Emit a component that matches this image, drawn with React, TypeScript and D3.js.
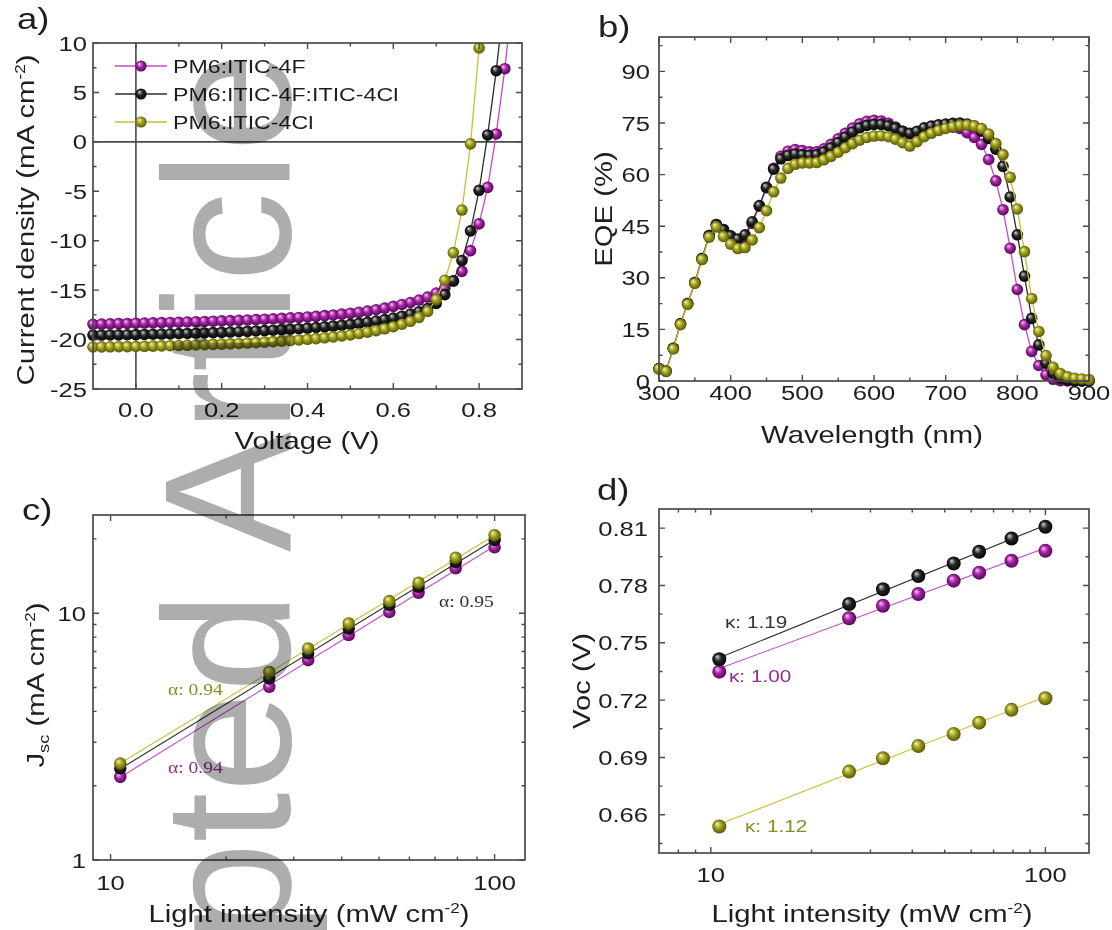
import React from 'react';
import * as d3 from 'd3';

// the lettering of the source figure is wide: every text is stretched along its own baseline
const SX = 1.22;
const SANS = "'Liberation Sans', Arial, Helvetica, sans-serif";
const SERIF = "'Liberation Serif', 'Times New Roman', serif";
const AX = '#4a4a4a';
const TICK = 21;
const TITLE = 24;

// ---------- a) J-V curves ----------
const jvVoltage = [
  -0.1, -0.08, -0.06, -0.04, -0.02, 0.0, 0.02, 0.04, 0.06, 0.08, 0.1, 0.12, 0.14, 0.16, 0.18, 0.2, 0.22,
  0.24, 0.26, 0.28, 0.3, 0.32, 0.34, 0.36, 0.38, 0.4, 0.42, 0.44, 0.46, 0.48, 0.5, 0.52, 0.54, 0.56,
  0.58, 0.6, 0.62, 0.64, 0.66, 0.68, 0.7, 0.72, 0.74, 0.76, 0.78, 0.8, 0.82, 0.84, 0.86, 0.88,
];
const jv4F = [
  -18.45, -18.43, -18.41, -18.39, -18.37, -18.35, -18.33, -18.31, -18.29, -18.27, -18.25, -18.22, -18.2,
  -18.17, -18.14, -18.11, -18.08, -18.05, -18.02, -17.98, -17.94, -17.9, -17.86, -17.81, -17.76, -17.71,
  -17.65, -17.58, -17.51, -17.43, -17.34, -17.24, -17.12, -16.98, -16.82, -16.64, -16.45, -16.25, -16.0,
  -15.7, -15.3, -14.8, -14.1, -13.1, -11.0, -8.3, -4.6, 0.8, 7.4, 15.5,
];
const jvTernary = [
  -19.55, -19.54, -19.53, -19.52, -19.51, -19.5, -19.48, -19.46, -19.44, -19.42, -19.4, -19.38, -19.36,
  -19.33, -19.3, -19.27, -19.24, -19.21, -19.17, -19.13, -19.09, -19.05, -19.0, -18.95, -18.9, -18.84,
  -18.78, -18.71, -18.63, -18.55, -18.46, -18.36, -18.25, -18.12, -17.98, -17.82, -17.64, -17.43, -17.18,
  -16.85, -16.35, -15.45, -14.05, -12.0, -9.0, -4.9, 0.7, 7.2, 15.0,
];
const jv4Cl = [
  -20.75, -20.74, -20.73, -20.72, -20.71, -20.7, -20.68, -20.66, -20.64, -20.62, -20.6, -20.58, -20.55,
  -20.52, -20.49, -20.46, -20.43, -20.39, -20.35, -20.31, -20.26, -20.21, -20.16, -20.1, -20.04, -19.97,
  -19.9, -19.82, -19.73, -19.63, -19.52, -19.39, -19.25, -19.09, -18.91, -18.7, -18.45, -18.15, -17.75,
  -17.15, -15.95, -14.0, -11.2, -6.9, -0.2, 9.5, 22.0,
];
const jvTicksV = [0, 0.2, 0.4, 0.6, 0.8];
const jvTicksJ = [-25, -20, -15, -10, -5, 0, 5, 10];

// ---------- b) EQE ----------
const wavelength = [
  300, 310, 320, 330, 340, 350, 360, 370, 380, 390, 400, 410, 420, 430, 440, 450, 460, 470, 480, 490, 500,
  510, 520, 530, 540, 550, 560, 570, 580, 590, 600, 610, 620, 630, 640, 650, 660, 670, 680, 690, 700, 710,
  720, 730, 740, 750, 760, 770, 780, 790, 800, 810, 820, 830, 840, 850, 860, 870, 880, 890, 900,
];
const eqe4F = [
  3.6, 2.9, 9.5, 16.6, 22.5, 28.6, 35.6, 42.3, 45.5, 44.0, 42.0, 40.8, 41.8, 45.8, 50.8, 56.2, 61.8, 65.3,
  66.8, 67.3, 67.0, 66.6, 66.6, 67.5, 68.8, 70.4, 72.0, 73.5, 74.8, 75.5, 75.8, 75.6, 74.9, 73.8, 72.6,
  71.8, 72.3, 73.2, 73.8, 74.0, 74.0, 73.8, 73.4, 72.2, 70.8, 68.8, 64.4, 58.2, 49.8, 38.6, 26.6, 16.4,
  8.6, 4.5, 1.8, 0.5, 0.1, 0.0, 0.0, 0.0, 0.0,
];
const eqeTernary = [
  3.6, 2.9, 9.5, 16.6, 22.5, 28.6, 35.6, 42.3, 45.5, 44.0, 42.2, 41.3, 42.5, 46.3, 51.0, 56.3, 61.6, 64.6,
  65.6, 66.0, 65.8, 65.6, 65.8, 66.6, 67.8, 69.3, 70.9, 72.4, 73.6, 74.3, 74.6, 74.6, 74.2, 73.5, 72.6,
  72.0, 72.6, 73.6, 74.1, 74.5, 74.7, 74.9, 75.0, 74.7, 74.1, 72.6, 70.5, 67.4, 62.4, 53.5, 42.5, 30.5,
  18.2, 10.5, 5.2, 2.2, 0.8, 0.3, 0.1, 0.0, 0.0,
];
const eqe4Cl = [
  3.5, 2.8, 9.3, 16.4, 22.3, 28.4, 35.3, 41.8, 44.8, 42.0, 39.8, 38.5, 38.8, 41.0, 44.6, 49.5, 55.0, 59.0,
  61.8, 63.0, 63.4, 63.4, 63.5, 64.3, 65.3, 66.5, 67.8, 69.0, 70.0, 70.8, 71.2, 71.3, 71.0, 70.3, 69.3,
  68.3, 69.6, 71.0, 72.0, 72.8, 73.4, 73.9, 74.3, 74.4, 74.1, 73.4, 71.8, 69.0, 65.8, 59.2, 50.0, 37.6,
  24.0, 14.4, 7.4, 4.0, 2.2, 1.2, 0.8, 0.6, 0.4,
];
const eqeTicksX = [300, 400, 500, 600, 700, 800, 900];
const eqeTicksY = [0, 15, 30, 45, 60, 75, 90];

// ---------- c) Jsc and d) Voc vs light intensity ----------
const intensity = [10.6, 25.9, 32.7, 41.7, 53.2, 63.4, 79.2, 100];
const jsc4F = [2.17, 5.03, 6.45, 8.15, 10.1, 12.1, 15.2, 18.5];
const jscTernary = [2.35, 5.44, 6.87, 8.67, 10.8, 12.8, 16.1, 19.8];
const jsc4Cl = [2.46, 5.78, 7.2, 9.09, 11.2, 13.3, 16.8, 20.7];
const voc4F = [0.7349, 0.7628, 0.7694, 0.7755, 0.7825, 0.7867, 0.7929, 0.7981];
const vocTernary = [0.7414, 0.7703, 0.778, 0.7849, 0.7915, 0.7976, 0.8046, 0.8107];
const voc4Cl = [0.6539, 0.6826, 0.6896, 0.696, 0.7023, 0.7082, 0.7149, 0.721];
const alphaLabels = ['α: 0.94', 'α: 0.95', 'α: 0.94'];
const kappaLabels = ['κ: 1.00', 'κ: 1.19', 'κ: 1.12'];
const vocTicks = [0.66, 0.69, 0.72, 0.75, 0.78, 0.81];

const SERIES = [
  { key: 'f', name: 'PM6:ITIC-4F', hi: '#f6c8f6', base: '#a626a6', dark: '#4a004a', line: '#c64ac6', text: '#8e2e8e' },
  { key: 'k', name: 'PM6:ITIC-4F:ITIC-4Cl', hi: '#d4d4d4', base: '#262626', dark: '#000000', line: '#2c2c2c', text: '#333333' },
  { key: 'y', name: 'PM6:ITIC-4Cl', hi: '#f7f7b4', base: '#a3a320', dark: '#4c4c00', line: '#c2c236', text: '#8c8c24' },
];

function T({ x, y, size, anchor = 'start', rot = false, fill = '#1e1e1e', family = SANS, children }: any) {
  const tf = `translate(${x},${y})` + (rot ? ' rotate(-90)' : '') + ` scale(${SX},1)`;
  return (
    <text transform={tf} fontSize={size} textAnchor={anchor} fill={fill} fontFamily={family}>
      {children}
    </text>
  );
}

const Sup = ({ t }: any) => (
  <>
    <tspan dy={-9} fontSize={14}>{t}</tspan>
    <tspan dy={9}>)</tspan>
  </>
);

function Frame({ xs, ys, xMajor, xMinor, yMajor, yMinor, xFmt, yFmt, xLabelY, yLabelX }: any) {
  const [L, R] = xs.range();
  const [B, Tp] = ys.range();
  const segs: number[][] = [];
  const vx = (v: number, len: number) => {
    const p = xs(v);
    segs.push([p, B, p, B - len], [p, Tp, p, Tp + len]);
  };
  const vy = (v: number, len: number) => {
    const p = ys(v);
    segs.push([L, p, L + len, p], [R, p, R - len, p]);
  };
  xMajor.forEach((v: number) => vx(v, 6));
  xMinor.forEach((v: number) => vx(v, 3.5));
  yMajor.forEach((v: number) => vy(v, 6));
  yMinor.forEach((v: number) => vy(v, 3.5));
  return (
    <g>
      <rect x={L} y={Tp} width={R - L} height={B - Tp} fill="none" stroke={AX} strokeWidth={1.7} />
      <path d={segs.map((s) => `M${s[0]},${s[1]}L${s[2]},${s[3]}`).join('')} stroke={AX} strokeWidth={1.4} />
      {xMajor.map((v: number) => (
        <T key={'x' + v} x={xs(v)} y={xLabelY} size={TICK} anchor="middle">{xFmt(v)}</T>
      ))}
      {yMajor.map((v: number) => (
        <T key={'y' + v} x={yLabelX} y={ys(v) + 7.5} size={TICK} anchor="end">{yFmt(v)}</T>
      ))}
    </g>
  );
}

const Ball = ({ x, y, r, s }: any) => <circle cx={x} cy={y} r={r} fill={`url(#ball-${s.key})`} />;

// least squares line in transformed x
function fitLine(xv: number[], yv: number[]) {
  const mx = d3.mean(xv) as number;
  const my = d3.mean(yv) as number;
  const b = d3.sum(xv, (x, i) => (x - mx) * (yv[i] - my)) / d3.sum(xv, (x) => (x - mx) ** 2);
  return (x: number) => my + b * (x - mx);
}

function PanelA() {
  const xs = d3.scaleLinear().domain([-0.1, 0.9]).range([93, 522]);
  const ys = d3.scaleLinear().domain([-25, 10]).range([389, 43]);
  const sets = [jv4F, jvTernary, jv4Cl];
  const line = d3.line<number>().x((d, i) => xs(jvVoltage[i])).y((d) => ys(d));
  return (
    <g>
      <clipPath id="clip-a">
        <rect x={93} y={43} width={429} height={346} />
      </clipPath>
      <line x1={93} x2={522} y1={ys(0)} y2={ys(0)} stroke={AX} strokeWidth={1.6} />
      <line x1={xs(0)} x2={xs(0)} y1={43} y2={389} stroke={AX} strokeWidth={1.6} />
      {sets.map((vals, k) => (
        <g key={k}>
          <path d={line(vals) as string} fill="none" stroke={SERIES[k].line} strokeWidth={1.3} clipPath="url(#clip-a)" />
          {vals.map((v, i) => (v <= 10 ? <Ball key={i} x={xs(jvVoltage[i])} y={ys(v)} r={5.8} s={SERIES[k]} /> : null))}
        </g>
      ))}
      {SERIES.map((s, i) => (
        <g key={s.key}>
          <line x1={115} x2={167} y1={66 + i * 28} y2={66 + i * 28} stroke={s.line} strokeWidth={1.6} />
          <Ball x={141} y={66 + i * 28} r={5.6} s={s} />
          <T x={173} y={66 + i * 28 + 7} size={19}>{s.name}</T>
        </g>
      ))}
      <Frame
        xs={xs} ys={ys} xMajor={jvTicksV} xMinor={[0.1, 0.3, 0.5, 0.7]} yMajor={jvTicksJ}
        yMinor={[-22.5, -17.5, -12.5, -7.5, -2.5, 2.5, 7.5]} xFmt={d3.format('.1f')} yFmt={String}
        xLabelY={417} yLabelX={87}
      />
      <T x={34} y={220} size={TITLE} anchor="middle" rot>
        Current density (mA cm<Sup t="-2" />
      </T>
      <T x={307} y={449} size={TITLE} anchor="middle">Voltage (V)</T>
      <T x={17} y={29} size={30}>a)</T>
    </g>
  );
}

function PanelB() {
  const xs = d3.scaleLinear().domain([300, 900]).range([659, 1089]);
  const ys = d3.scaleLinear().domain([0, 100]).range([381, 37]);
  const sets = [eqe4F, eqeTernary, eqe4Cl];
  const line = d3.line<number>().x((d, i) => xs(wavelength[i])).y((d) => ys(d));
  return (
    <g>
      {sets.map((vals, k) => (
        <g key={k}>
          <path d={line(vals) as string} fill="none" stroke={SERIES[k].line} strokeWidth={1.3} />
          {vals.map((v, i) => <Ball key={i} x={xs(wavelength[i])} y={ys(v)} r={5.8} s={SERIES[k]} />)}
        </g>
      ))}
      <Frame
        xs={xs} ys={ys} xMajor={eqeTicksX} xMinor={[350, 450, 550, 650, 750, 850]} yMajor={eqeTicksY}
        yMinor={[7.5, 22.5, 37.5, 52.5, 67.5, 82.5, 97.5]} xFmt={String} yFmt={String}
        xLabelY={400} yLabelX={650}
      />
      <T x={612} y={209} size={TITLE} anchor="middle" rot>EQE (%)</T>
      <T x={872} y={443} size={TITLE} anchor="middle">Wavelength (nm)</T>
      <T x={598} y={37} size={30}>b)</T>
    </g>
  );
}

function PanelC() {
  const xs = d3.scaleLog().domain([9, 120]).range([93, 525]);
  const ys = d3.scaleLog().domain([1, 25]).range([860, 515]);
  const sets = [jsc4F, jscTernary, jsc4Cl];
  const lx = intensity.map(Math.log10);
  const ends = [intensity[0], intensity[intensity.length - 1]];
  const labelPos = [
    [168, 773],
    [439, 607],
    [168, 695],
  ];
  return (
    <g>
      {sets.map((vals, k) => {
        const f = fitLine(lx, vals.map(Math.log10));
        return (
          <g key={k}>
            <line
              x1={xs(ends[0])} y1={ys(10 ** f(Math.log10(ends[0])))}
              x2={xs(ends[1])} y2={ys(10 ** f(Math.log10(ends[1])))}
              stroke={SERIES[k].line} strokeWidth={1.1}
            />
            {vals.map((v, i) => <Ball key={i} x={xs(intensity[i])} y={ys(v)} r={6.2} s={SERIES[k]} />)}
            <T x={labelPos[k][0]} y={labelPos[k][1]} size={16} family={SERIF} fill={SERIES[k].text}>
              {alphaLabels[k]}
            </T>
          </g>
        );
      })}
      <Frame
        xs={xs} ys={ys} xMajor={[10, 100]} xMinor={[20, 30, 40, 50, 60, 70, 80, 90]} yMajor={[1, 10]}
        yMinor={[2, 3, 4, 5, 6, 7, 8, 9, 20]} xFmt={String} yFmt={String} xLabelY={890} yLabelX={86}
      />
      <T x={44} y={685} size={TITLE} anchor="middle" rot>
        J<tspan dy={5} fontSize={15}>sc</tspan>
        <tspan dy={-5}> (mA cm</tspan>
        <Sup t="-2" />
      </T>
      <T x={309} y={922} size={TITLE} anchor="middle">
        Light intensity (mW cm<Sup t="-2" />
      </T>
      <T x={22} y={520} size={30}>c)</T>
    </g>
  );
}

function PanelD() {
  const xs = d3.scaleLog().domain([7, 135]).range([659, 1089]);
  const ys = d3.scaleLinear().domain([0.64, 0.82]).range([853, 509]);
  const sets = [voc4F, vocTernary, voc4Cl];
  const lx = intensity.map(Math.log10);
  const ends = [intensity[0], intensity[intensity.length - 1]];
  const labelPos = [
    [729, 682],
    [725, 628],
    [745, 832],
  ];
  return (
    <g>
      {sets.map((vals, k) => {
        const f = fitLine(lx, vals);
        return (
          <g key={k}>
            <line
              x1={xs(ends[0])} y1={ys(f(Math.log10(ends[0])))}
              x2={xs(ends[1])} y2={ys(f(Math.log10(ends[1])))}
              stroke={SERIES[k].line} strokeWidth={1.1}
            />
            {vals.map((v, i) => <Ball key={i} x={xs(intensity[i])} y={ys(v)} r={7} s={SERIES[k]} />)}
            <T x={labelPos[k][0]} y={labelPos[k][1]} size={17} fill={SERIES[k].text}>{kappaLabels[k]}</T>
          </g>
        );
      })}
      <Frame
        xs={xs} ys={ys} xMajor={[10, 100]} xMinor={[8, 9, 20, 30, 40, 50, 60, 70, 80, 90]} yMajor={vocTicks}
        yMinor={[0.645, 0.675, 0.705, 0.735, 0.765, 0.795]} xFmt={String} yFmt={d3.format('.2f')}
        xLabelY={882} yLabelX={648}
      />
      <T x={590} y={681} size={TITLE} anchor="middle" rot>Voc (V)</T>
      <T x={872} y={922} size={TITLE} anchor="middle">
        Light intensity (mW cm<Sup t="-2" />
      </T>
      <T x={597} y={500} size={30}>d)</T>
    </g>
  );
}

export default function App() {
  return (
    <svg width={1112} height={930} style={{ position: 'absolute', left: 0, top: 0 }}>
      <defs>
        {SERIES.map((s) => (
          <radialGradient key={s.key} id={`ball-${s.key}`} cx="0.5" cy="0.5" r="0.55" fx="0.33" fy="0.3">
            <stop offset="0%" stopColor={s.hi} />
            <stop offset="45%" stopColor={s.base} />
            <stop offset="100%" stopColor={s.dark} />
          </radialGradient>
        ))}
      </defs>
      <rect width={1112} height={930} fill="#fff" />
      <PanelA />
      <PanelB />
      <PanelC />
      <PanelD />
      {/* journal watermark, reads bottom to top */}
      <text
        transform="translate(290,52) rotate(-90)"
        textAnchor="end"
        fontSize={180}
        fontFamily={SANS}
        fill="#adadad"
        style={{ mixBlendMode: 'multiply' }}
      >
        Accepted Article
      </text>
    </svg>
  );
}
